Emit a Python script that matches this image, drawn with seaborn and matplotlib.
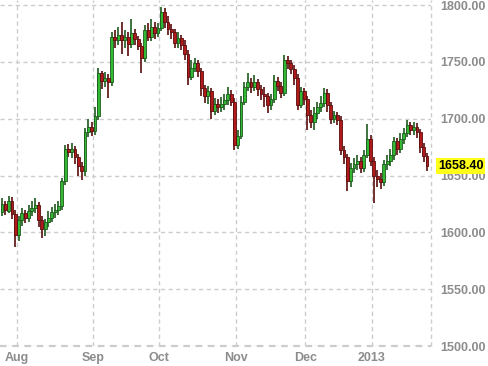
import numpy as np
import pandas as pd
import matplotlib
matplotlib.use("Agg")
import matplotlib.pyplot as plt
import seaborn as sns

# ---- data ----
opens = [1618, 1625, 1619, 1628, 1616, 1598, 1611, 1617, 1613, 1619,
         1621, 1624, 1611, 1603, 1609, 1613, 1618, 1620, 1623, 1645,
         1673, 1671, 1673, 1666, 1658, 1654, 1688, 1693, 1689, 1702,
         1740, 1733, 1736, 1732, 1772, 1769, 1774, 1769, 1772, 1766,
         1775, 1770, 1764, 1753, 1778, 1772, 1781, 1775, 1780, 1794,
         1785, 1779, 1776, 1767, 1771, 1765, 1757, 1737, 1745, 1749,
         1742, 1727, 1720, 1724, 1707, 1713, 1710, 1713, 1716, 1722,
         1715, 1677, 1685, 1715, 1728, 1732, 1728, 1732, 1726, 1722,
         1720, 1712, 1717, 1733, 1729, 1723, 1752, 1749, 1744, 1736,
         1712, 1724, 1717, 1703, 1697, 1705, 1710, 1714, 1723, 1712,
         1700, 1703, 1699, 1672, 1666, 1645, 1657, 1660, 1663, 1657,
         1668, 1682, 1663, 1650, 1647, 1644, 1660, 1663, 1668, 1680,
         1673, 1682, 1687, 1694, 1690, 1693, 1688, 1675, 1667]
closes = [1625, 1620, 1628, 1616, 1598, 1611, 1617, 1613, 1619, 1621,
          1624, 1611, 1603, 1609, 1613, 1618, 1620, 1623, 1645, 1673,
          1671, 1673, 1666, 1658, 1654, 1688, 1693, 1689, 1702, 1740,
          1733, 1736, 1732, 1772, 1769, 1774, 1769, 1772, 1766, 1775,
          1770, 1764, 1753, 1778, 1772, 1781, 1775, 1780, 1794, 1785,
          1779, 1776, 1767, 1771, 1765, 1757, 1737, 1745, 1749, 1742,
          1727, 1720, 1724, 1707, 1713, 1710, 1713, 1716, 1722, 1715,
          1677, 1685, 1715, 1728, 1732, 1728, 1732, 1726, 1722, 1720,
          1712, 1717, 1733, 1729, 1723, 1752, 1749, 1744, 1736, 1712,
          1724, 1717, 1703, 1697, 1705, 1710, 1714, 1723, 1712, 1700,
          1703, 1699, 1672, 1666, 1645, 1657, 1660, 1663, 1657, 1668,
          1682, 1663, 1650, 1647, 1644, 1660, 1663, 1668, 1680, 1673,
          1682, 1687, 1694, 1690, 1693, 1688, 1675, 1667, 1658.4]
highs = [1630, 1628, 1632, 1631, 1620, 1614, 1621, 1620, 1624, 1628,
         1630, 1627, 1614, 1612, 1619, 1622, 1625, 1628, 1648, 1677,
         1678, 1679, 1676, 1669, 1662, 1692, 1700, 1697, 1710, 1745,
         1742, 1741, 1739, 1776, 1778, 1781, 1785, 1778, 1776, 1788,
         1779, 1773, 1767, 1782, 1784, 1788, 1785, 1784, 1798, 1797,
         1790, 1783, 1779, 1776, 1774, 1769, 1760, 1752, 1753, 1752,
         1745, 1730, 1729, 1727, 1718, 1717, 1719, 1722, 1728, 1725,
         1718, 1690, 1720, 1732, 1740, 1736, 1738, 1735, 1730, 1728,
         1723, 1722, 1738, 1737, 1732, 1756, 1755, 1752, 1747, 1739,
         1728, 1727, 1720, 1708, 1710, 1715, 1720, 1727, 1726, 1715,
         1707, 1706, 1702, 1676, 1669, 1661, 1665, 1668, 1666, 1672,
         1695, 1686, 1666, 1655, 1652, 1664, 1668, 1673, 1684, 1683,
         1687, 1692, 1699, 1697, 1697, 1696, 1691, 1679, 1670]
lows = [1614, 1615, 1617, 1612, 1587, 1592, 1606, 1608, 1609, 1614,
        1617, 1605, 1595, 1597, 1605, 1609, 1613, 1615, 1620, 1642,
        1666, 1665, 1660, 1650, 1646, 1650, 1684, 1685, 1686, 1699,
        1726, 1728, 1718, 1729, 1762, 1765, 1757, 1762, 1755, 1762,
        1765, 1760, 1740, 1750, 1768, 1768, 1770, 1772, 1777, 1780,
        1774, 1770, 1762, 1762, 1760, 1752, 1730, 1734, 1741, 1737,
        1720, 1714, 1713, 1700, 1703, 1705, 1706, 1708, 1712, 1711,
        1672, 1673, 1682, 1712, 1724, 1723, 1724, 1720, 1716, 1710,
        1705, 1708, 1714, 1724, 1718, 1720, 1744, 1739, 1730, 1708,
        1709, 1712, 1690, 1692, 1690, 1700, 1706, 1710, 1706, 1695,
        1696, 1694, 1668, 1660, 1636, 1640, 1652, 1655, 1652, 1653,
        1665, 1658, 1626, 1640, 1638, 1641, 1655, 1658, 1664, 1668,
        1670, 1678, 1684, 1686, 1686, 1683, 1670, 1662, 1654]
start_date = "2012-07-26"
end_date = "2013-01-25"
holidays = ["2012-11-22", "2012-12-25", "2013-01-01"]
month_labels = ["Aug", "Sep", "Oct", "Nov", "Dec", "2013"]
y_ticks = [1500, 1550, 1600, 1650, 1700, 1750, 1800]
last_label = "1658.40"

# ---- build frame ----
dates = pd.bdate_range(start_date, end_date)
dates = dates[~dates.isin(pd.to_datetime(holidays))]
df = pd.DataFrame({"date": dates, "open": opens, "high": highs,
                   "low": lows, "close": closes})
df["pos"] = np.arange(len(df))
df["dir"] = np.where(df["close"] >= df["open"], "up", "down")
month_starts = df.groupby(df["date"].dt.to_period("M"))["pos"].min().values[1:]

sns.set_theme(style="white")
plt.rcParams["font.family"] = ["Liberation Sans", "DejaVu Sans"]

W, H = 488, 366
fig = plt.figure(figsize=(W / 100, H / 100), dpi=100)
ax = fig.add_axes([0, 20 / H, 431 / W, 346 / H])

body_col = {"up": "#33b833", "down": "#b01a1a"}
edge_col = {"up": "#1c5a1c", "down": "#5a0c0c"}

up = df[df["dir"] == "up"]
dn = df[df["dir"] == "down"]
for sub, key in ((up, "up"), (dn, "down")):
    ax.vlines(sub["pos"], sub["low"], sub["high"], color=edge_col[key],
              linewidth=1.2, zorder=2)
    bottoms = np.minimum(sub["open"], sub["close"])
    heights = np.maximum(np.abs(sub["close"] - sub["open"]), 0.9)
    ax.bar(sub["pos"], heights, bottom=bottoms, width=0.86,
           color=body_col[key], edgecolor=edge_col[key], linewidth=0.6,
           zorder=3)

grid_kw = dict(color="#cccccc", linestyle=(0, (3, 2.5)), linewidth=1.0)
ax.set_xlim(-0.6, 129.2)
ax.set_ylim(1500, 1804.4)
ax.set_yticks(y_ticks)
ax.set_xticks(month_starts + 0.4)
ax.grid(True, **grid_kw)
ax.set_axisbelow(True)
for s in ax.spines.values():
    s.set_visible(False)
ax.axhline(1500, clip_on=False, zorder=1, **{**grid_kw, "linewidth": 1.6})
ax.axvline(129.2, clip_on=False, zorder=1, **grid_kw)

ax.tick_params(axis="both", length=0)
ax.set_xticklabels(month_labels, fontsize=9, fontweight="bold", color="#8c8c8c")
ax.yaxis.tick_right()
ax.set_yticklabels([f"{v:.2f}" for v in y_ticks], fontsize=9,
                   fontweight="bold", color="#8c8c8c")
ax.tick_params(axis="y", pad=7)
ax.tick_params(axis="x", pad=4)

ax.text(1.0 + 7 / 431, closes[-1], last_label, transform=ax.get_yaxis_transform(),
        ha="left", va="center", fontsize=9, fontweight="bold", color="black",
        bbox=dict(boxstyle="square,pad=0.15", facecolor="#ffff1a",
                  edgecolor="none"), zorder=5, clip_on=False)

fig.savefig("out.png", dpi=100)
